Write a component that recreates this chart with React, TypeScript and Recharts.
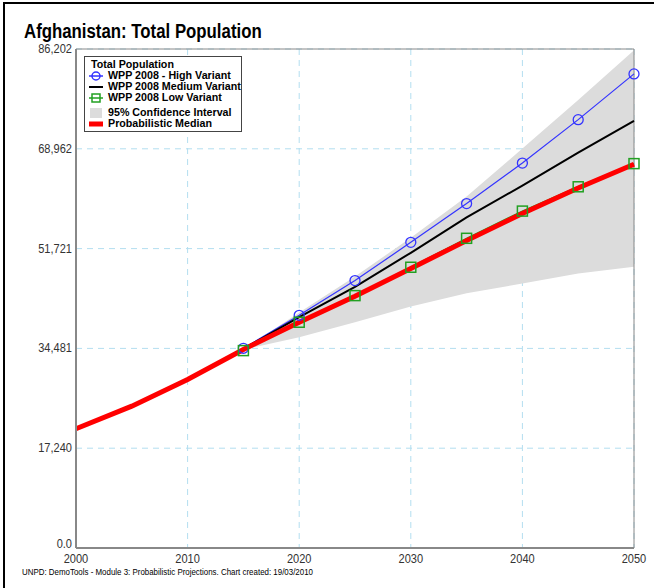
import React from "react";
import {
  ComposedChart,
  Line,
  Area,
  XAxis,
  YAxis,
  CartesianGrid,
  ReferenceArea,
} from "recharts";

const years = [2000, 2005, 2010, 2015, 2020, 2025, 2030, 2035, 2040, 2045, 2050];
const median = [20600, 24500, 29100, 34300, 39000, 43500, 48300, 53100, 57800, 62200, 66300];
const highVariant = [null, null, null, 34500, 40200, 46200, 52800, 59500, 66500, 74000, 81900];
const mediumVariant = [null, null, null, 34400, 39900, 45100, 51000, 57100, 62600, 68300, 73800];
const lowVariant = [null, null, null, 34100, 39000, 43600, 48500, 53500, 58200, 62400, 66400];
const ciLow = [null, null, null, 34300, 36400, 39000, 41700, 44000, 45700, 47400, 48600];
const ciHigh = [null, null, null, 34300, 40700, 46900, 53600, 60700, 69000, 77400, 86000];

const xTicks = [2000, 2010, 2020, 2030, 2040, 2050];
const yMax = 86202;
const yTicks = [0, 17240.4, 34480.8, 51721.2, 68961.6, 86202];

const data = years.map((year, i) => ({
  year,
  median: median[i],
  high: highVariant[i],
  medium: mediumVariant[i],
  low: lowVariant[i],
  ci: ciLow[i] == null ? null : [ciLow[i], ciHigh[i]],
}));

const sans = "'Liberation Sans', Arial, sans-serif";

const formatY = (v: number) =>
  v === 0 ? "0.0" : Math.round(v).toLocaleString("en-US");

const SquareDot = (props: any) => {
  const { cx, cy, index } = props;
  if (cx == null || cy == null) return <g key={`sq-${index}`} />;
  return (
    <rect
      key={`sq-${index}`}
      x={cx - 5}
      y={cy - 5}
      width={10}
      height={10}
      fill="none"
      stroke="#22a022"
      strokeWidth={1.5}
    />
  );
};

// narrow-looking tick text (the original uses a condensed face)
const YTick = (props: any) => {
  const { y, payload } = props;
  const x = props.x + 2;
  return (
    <text
      x={x}
      y={y}
      dy={payload.value === 0 ? 0 : 4}
      textAnchor="end"
      fontFamily={sans}
      fontSize={13}
      fill="#333"
      transform={`translate(${x} 0) scale(0.85 1) translate(${-x} 0)`}
    >
      {formatY(payload.value)}
    </text>
  );
};

const XTick = (props: any) => {
  const { x, y, payload } = props;
  return (
    <text
      x={x}
      y={y}
      dy={9}
      textAnchor="middle"
      fontFamily={sans}
      fontSize={13}
      fill="#333"
      transform={`translate(${x} 0) scale(0.85 1) translate(${-x} 0)`}
    >
      {payload.value}
    </text>
  );
};

const legendRows = [
  { label: "WPP 2008 - High Variant", kind: "high" },
  { label: "WPP 2008 Medium Variant", kind: "medium" },
  { label: "WPP 2008 Low Variant", kind: "low" },
  { label: "95% Confidence Interval", kind: "ci" },
  { label: "Probabilistic Median", kind: "median" },
];

function LegendIcon({ kind }: { kind: string }) {
  return (
    <svg width={16} height={10} style={{ display: "block", flex: "none" }}>
      {kind === "high" && (
        <>
          <line x1={1} y1={5} x2={15} y2={5} stroke="#3333ff" strokeWidth={1.5} />
          <circle cx={8} cy={5} r={4} fill="none" stroke="#3333ff" strokeWidth={1.5} />
        </>
      )}
      {kind === "medium" && <line x1={1} y1={5} x2={15} y2={5} stroke="#000" strokeWidth={2} />}
      {kind === "low" && (
        <>
          <line x1={1} y1={5} x2={15} y2={5} stroke="#22a022" strokeWidth={1.5} />
          <rect x={4} y={1} width={8} height={8} fill="none" stroke="#22a022" strokeWidth={1.5} />
        </>
      )}
      {kind === "ci" && <rect x={2} y={0} width={12} height={10} fill="#dcdcdc" />}
      {kind === "median" && <rect x={1} y={2.5} width={14} height={5} fill="#ff0000" />}
    </svg>
  );
}

function ChartLegend() {
  return (
    <div
      style={{
        position: "absolute",
        left: 84,
        top: 56,
        border: "1px solid #444",
        background: "#fff",
        width: 158,
        height: 76,
        padding: "2px 0 0 3px",
        fontFamily: sans,
        fontWeight: "bold",
        fontSize: 10.7,
        lineHeight: "11px",
        color: "#000",
        boxSizing: "border-box",
        whiteSpace: "nowrap",
      }}
    >
      <div style={{ paddingLeft: 3 }}>Total Population</div>
      {legendRows.map((r) => (
        <div
          key={r.kind}
          style={{
            display: "flex",
            alignItems: "center",
            gap: 4,
            marginTop: r.kind === "ci" ? 4 : 0,
          }}
        >
          <LegendIcon kind={r.kind} />
          <span>{r.label}</span>
        </div>
      ))}
    </div>
  );
}

export default function App() {
  return (
    <div
      style={{
        position: "absolute",
        left: 0,
        top: 0,
        width: 654,
        height: 588,
        background: "#fff",
        overflow: "hidden",
      }}
    >
      <div style={{ position: "absolute", left: 3, top: 2, width: 651, height: 2, background: "#000" }} />
      <div style={{ position: "absolute", left: 3, top: 2, width: 2, height: 586, background: "#000" }} />
      <div
        style={{
          position: "absolute",
          left: 24,
          top: 20,
          fontFamily: sans,
          fontWeight: "bold",
          fontSize: 20,
          color: "#000",
          whiteSpace: "nowrap",
          transform: "scaleX(0.84)",
          transformOrigin: "left top",
        }}
      >
        Afghanistan: Total Population
      </div>
      <ComposedChart
        width={654}
        height={588}
        data={data}
        margin={{ top: 49, right: 20, bottom: 20, left: 16 }}
        style={{ position: "absolute", left: 0, top: 0 }}
      >
        <CartesianGrid stroke="#b3def0" strokeDasharray="6 5" />
        <XAxis
          dataKey="year"
          type="number"
          domain={[2000, 2050]}
          ticks={xTicks}
          tickLine={false}
          axisLine={{ stroke: "#888", strokeWidth: 2 }}
          tick={<XTick />}
          tickMargin={0}
          height={20}
          interval={0}
        />
        <YAxis
          type="number"
          domain={[0, yMax]}
          ticks={yTicks}
          tickLine={false}
          axisLine={{ stroke: "#888", strokeWidth: 2 }}
          tick={<YTick />}
          tickMargin={0}
          width={60}
          interval={0}
          allowDataOverflow
        />
        <Area
          dataKey="ci"
          type="linear"
          fill="#dcdcdc"
          fillOpacity={1}
          stroke="none"
          isAnimationActive={false}
          legendType="none"
        />
        <ReferenceArea
          x1={2000}
          x2={2050}
          y1={0}
          y2={yMax}
          fill="none"
          stroke="#888"
          strokeWidth={1}
          ifOverflow="visible"
        />
        <Line
          dataKey="high"
          type="linear"
          stroke="#3333ff"
          strokeWidth={1.2}
          dot={{ r: 5, fill: "none", stroke: "#3333ff", strokeWidth: 1.3 }}
          isAnimationActive={false}
        />
        <Line
          dataKey="medium"
          type="linear"
          stroke="#000"
          strokeWidth={2}
          dot={false}
          isAnimationActive={false}
        />
        <Line
          dataKey="low"
          type="linear"
          stroke="#22a022"
          strokeWidth={1.5}
          dot={false}
          isAnimationActive={false}
        />
        <Line
          dataKey="median"
          type="linear"
          stroke="#ff0000"
          strokeWidth={5}
          dot={false}
          isAnimationActive={false}
        />
        <Line
          dataKey="low"
          type="linear"
          stroke="none"
          dot={SquareDot}
          isAnimationActive={false}
          legendType="none"
        />
      </ComposedChart>
      <ChartLegend />
      <div
        style={{
          position: "absolute",
          left: 22,
          top: 567,
          fontFamily: sans,
          fontSize: 9,
          color: "#000",
          whiteSpace: "nowrap",
          transform: "scaleX(0.88)",
          transformOrigin: "left top",
        }}
      >
        UNPD: DemoTools - Module 3: Probabilistic Projections. Chart created: 19/03/2010
      </div>
    </div>
  );
}
